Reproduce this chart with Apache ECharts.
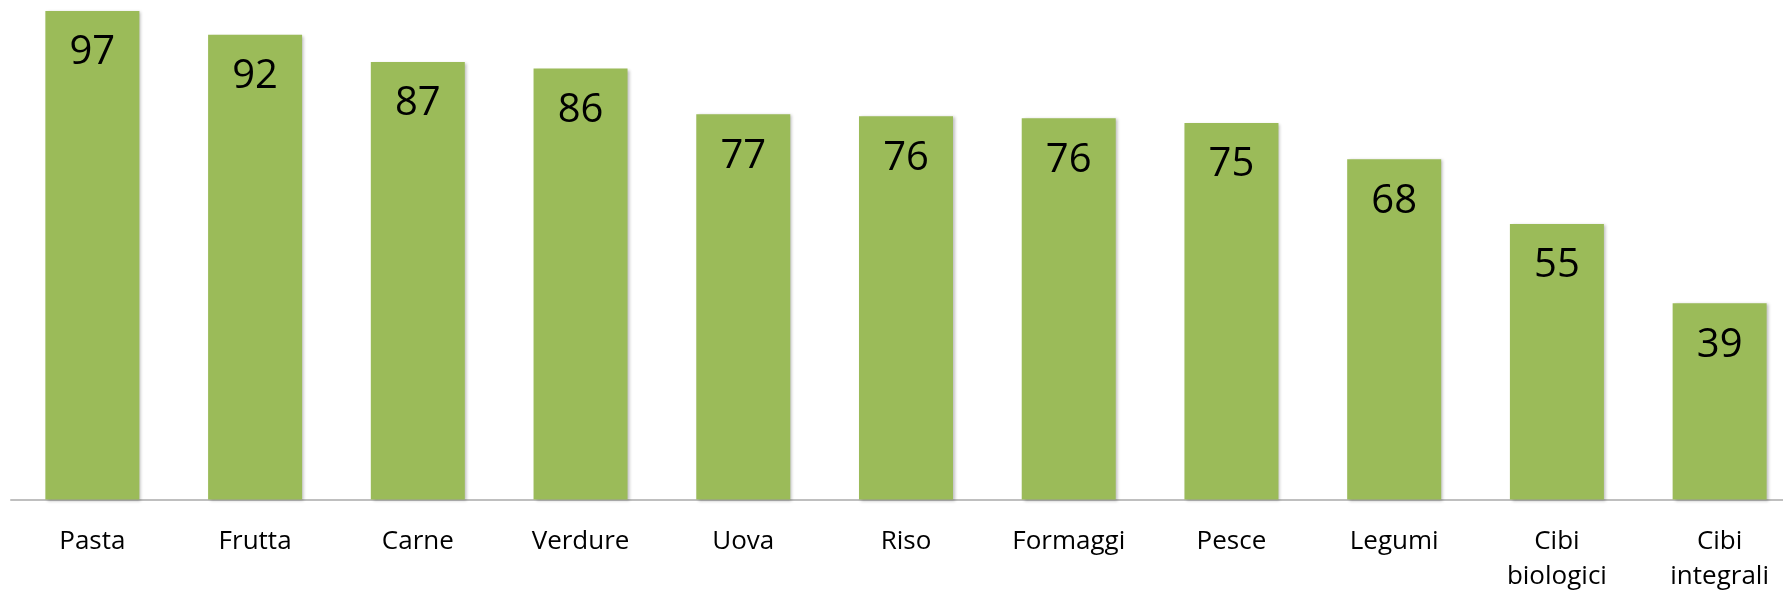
<!DOCTYPE html>
<html>
<head>
<meta charset="utf-8">
<script src="https://cdn.jsdelivr.net/npm/echarts@6/dist/echarts.min.js"></script>
<style>
html,body{margin:0;padding:0;background:#fff;}
#chart{width:1783px;height:597px;}
</style>
</head>
<body>
<div id="chart"></div>
<script>
const categories = ['Pasta', 'Frutta', 'Carne', 'Verdure', 'Uova', 'Riso', 'Formaggi', 'Pesce', 'Legumi', 'Cibi\nbiologici', 'Cibi\nintegrali'];
const values = [97, 92.3, 86.9, 85.6, 76.5, 76.1, 75.7, 74.8, 67.6, 54.7, 39.0];

const chart = echarts.init(document.getElementById('chart'), null, {renderer: 'canvas'});
chart.setOption({
  animation: false,
  backgroundColor: '#ffffff',
  grid: {left: 11, width: 1790, top: -4, bottom: 97.5, containLabel: false, outerBoundsMode: 'none'},
  xAxis: {
    type: 'category',
    data: categories,
    axisLine: {show: true, lineStyle: {color: '#bfbfbf', width: 2}},
    axisTick: {show: false},
    axisLabel: {
      interval: 0,
      color: '#000000',
      fontFamily: 'Open Sans',
      fontSize: 26,
      lineHeight: 35,
      margin: 25
    }
  },
  yAxis: {
    type: 'value',
    min: 0,
    max: 100,
    show: false,
    splitLine: {show: false}
  },
  series: [{
    type: 'bar',
    data: values,
    barWidth: 94,
    itemStyle: {
      color: '#9BBB59',
      shadowColor: 'rgba(0,0,0,0.25)',
      shadowBlur: 3,
      shadowOffsetX: 2,
      shadowOffsetY: 1
    },
    label: {
      show: true,
      position: 'insideTop',
      distance: 22,
      color: '#000000',
      fontFamily: 'Open Sans',
      fontSize: 40,
      lineHeight: 40,
      formatter: p => String(Math.round(p.value))
    }
  }]
});
</script>
</body>
</html>
